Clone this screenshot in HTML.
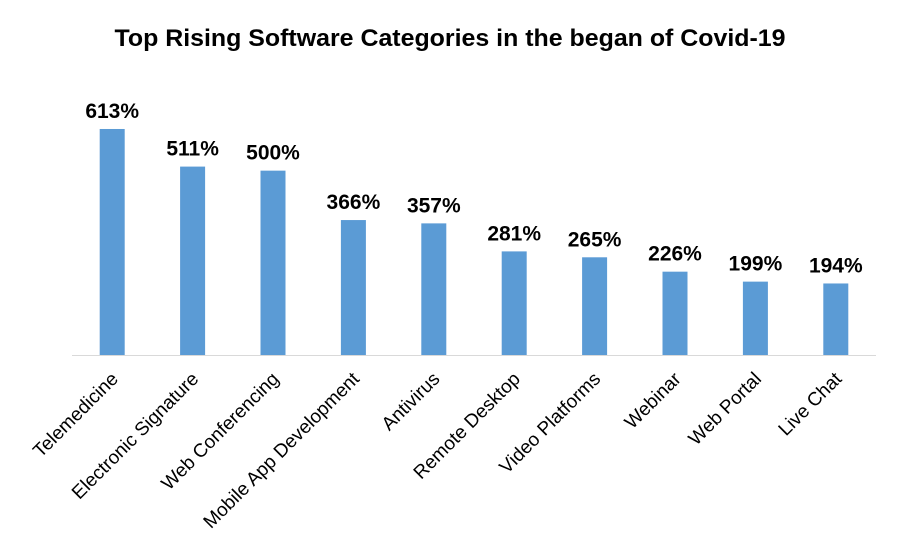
<!DOCTYPE html>
<html><head><meta charset="utf-8"><style>
body{margin:0;background:#fff;}
svg{display:block;font-family:"Liberation Sans",Arial,sans-serif;}
</style></head><body>
<svg id="chart" width="899" height="557">
<text x="450" y="46" text-anchor="middle" font-size="24" font-weight="bold" fill="#000" textLength="671" lengthAdjust="spacingAndGlyphs">Top Rising Software Categories in the began of Covid-19</text>
<line x1="72" y1="355.5" x2="876" y2="355.5" stroke="#d9d9d9" stroke-width="1"/>
<g id="bars"></g>
</svg>
<script>
const categories=["Telemedicine","Electronic Signature","Web Conferencing","Mobile App Development","Antivirus","Remote Desktop","Video Platforms","Webinar","Web Portal","Live Chat"];
const values=[613,511,500,366,357,281,265,226,199,194];
const valueLabels=["613%","511%","500%","366%","357%","281%","265%","226%","199%","194%"];
const NS="http://www.w3.org/2000/svg";
const x0=72,x1=876,base=355,scale=0.3687;
const band=(x1-x0)/categories.length;
function xc(i){return x0+band*(i+0.5);}
function y(v){return base-v*scale;}
const g=document.getElementById('bars');
categories.forEach((c,i)=>{
  const r=document.createElementNS(NS,'rect');
  r.setAttribute('x',xc(i)-12.5);r.setAttribute('y',y(values[i]));
  r.setAttribute('width',25);r.setAttribute('height',base-y(values[i]));
  r.setAttribute('fill','#5b9bd5');
  
  
  g.appendChild(r);
  const t=document.createElementNS(NS,'text');
  t.setAttribute('x',xc(i));t.setAttribute('y',y(values[i])-11);
  t.setAttribute('text-anchor','middle');t.setAttribute('font-size','21');t.setAttribute('font-weight','bold');
  t.textContent=valueLabels[i];
  
  
  g.appendChild(t);
  const l=document.createElementNS(NS,'text');
  const lx=xc(i)+7,ly=380;
  l.setAttribute('x',lx);l.setAttribute('y',ly);
  l.setAttribute('text-anchor','end');l.setAttribute('font-size','19');l.setAttribute('fill','#000');
  l.setAttribute('transform','rotate(-45 '+lx+' '+ly+')');
  l.textContent=c;
  
  
  g.appendChild(l);
});
</script>
</body></html>
